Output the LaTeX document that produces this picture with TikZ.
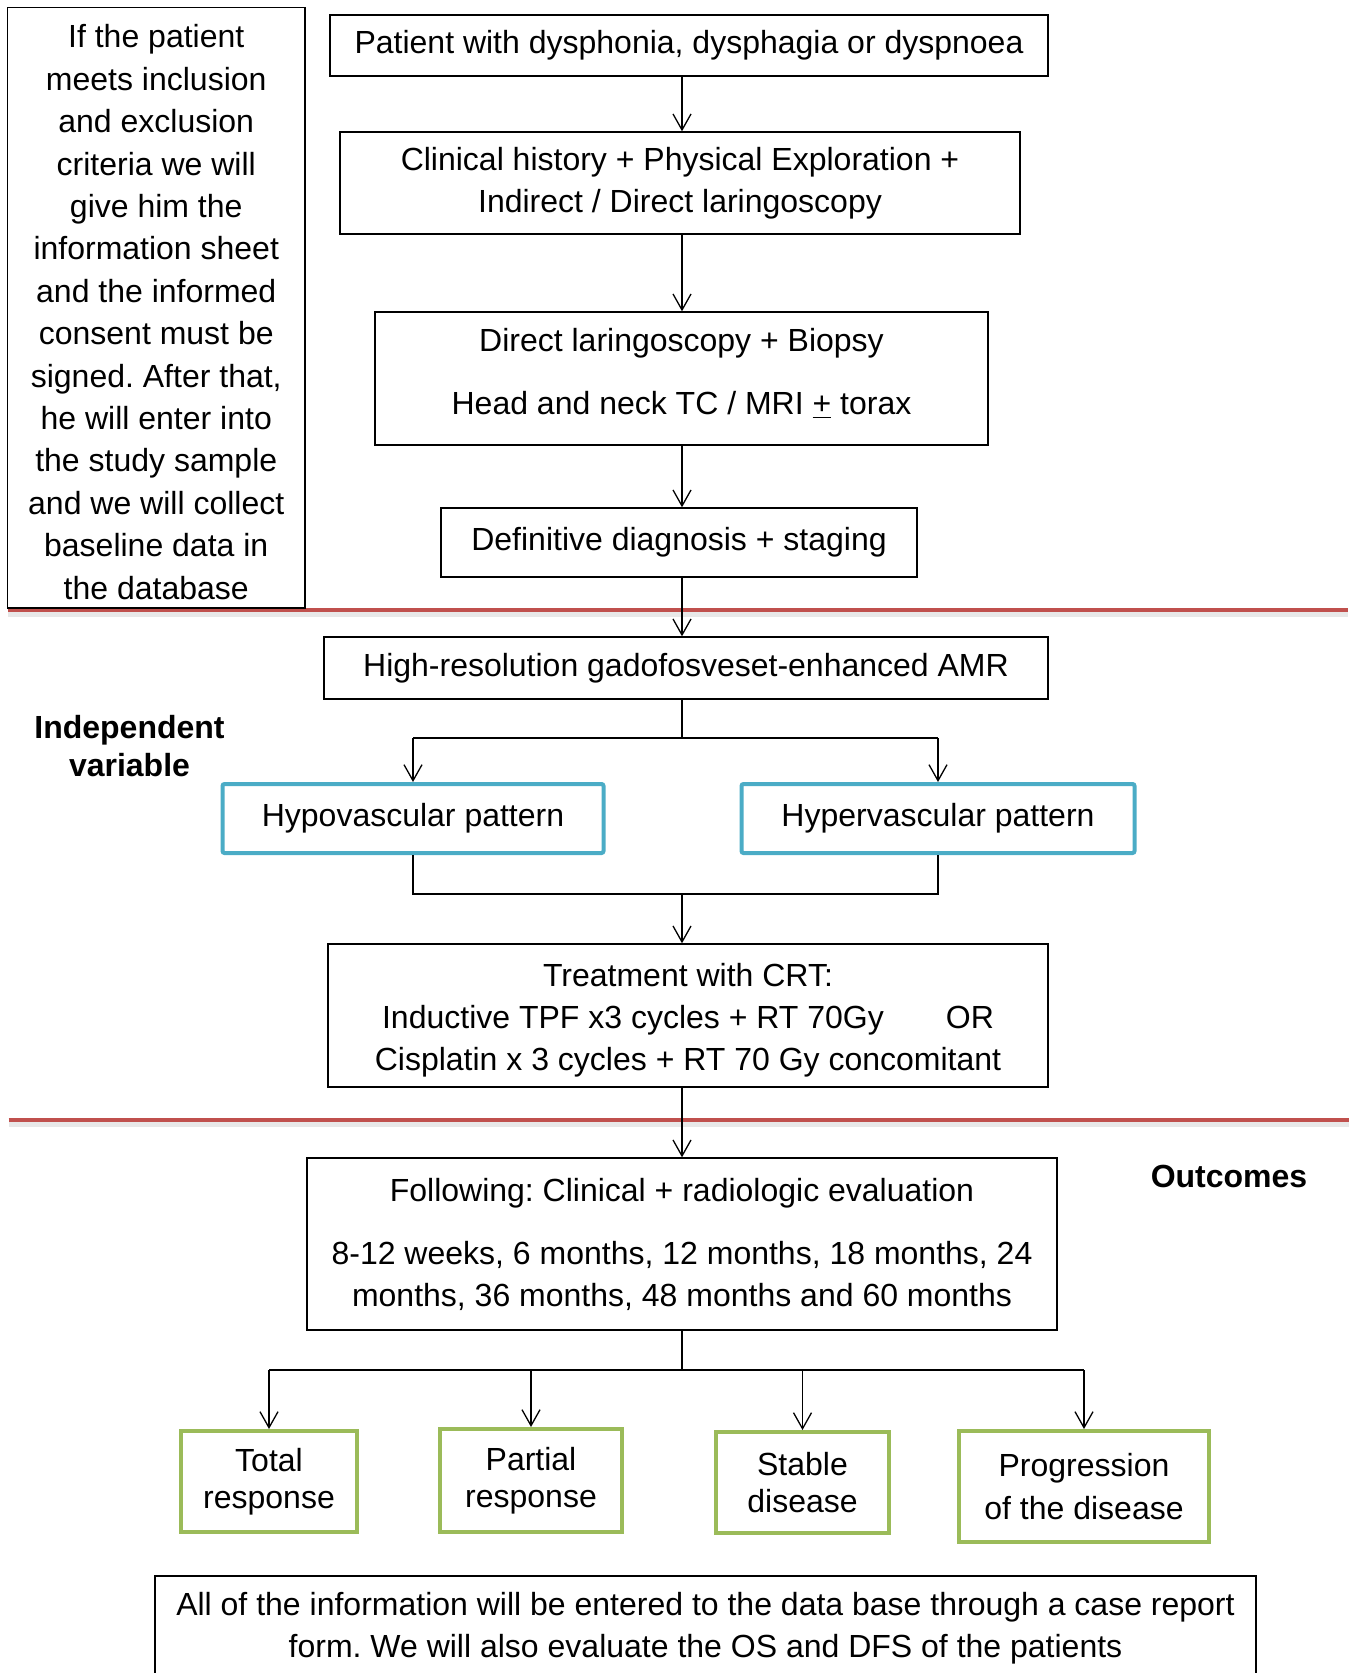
\documentclass[tikz,border=0pt]{standalone}
\usepackage{fontspec}
\setmainfont{Liberation Sans}
\usetikzlibrary{arrows.meta, calc}
\definecolor{redline}{HTML}{C0504D}
\definecolor{bluebox}{HTML}{4BACC6}
\definecolor{greenbox}{HTML}{9BBB59}
\frenchspacing
\tikzset{
  block/.style={
    rectangle, draw, line width=0.7pt,
    align=center, inner sep=0pt,
    font=\fontsize{16}{21}\selectfont
  },
  patternblock/.style={
    block, draw=bluebox, line width=2pt, rounded corners=1pt
  },
  outcomeblock/.style={
    block, draw=greenbox, line width=2pt,
    font=\fontsize{16}{18.6}\selectfont
  },
  sidelabel/.style={
    align=center, inner sep=0pt,
    font=\fontsize{16}{19}\selectfont\bfseries
  },
  arrow/.style={-{Straight Barb[length=8pt,width=9pt]}, line width=0.65pt},
  link/.style={line width=0.65pt},
  divider/.style={draw=redline, line width=2pt},
  dividershade/.style={draw=black!9, line width=3pt}
}

\begin{document}
\begin{tikzpicture}[x=0.5pt, y=-0.5pt]
\useasboundingbox (0,0) rectangle (1352,1673);
\clip (0,0) rectangle (1352,1673);

% Section dividers
\draw[dividershade] (8,614) -- (1348,614);
\draw[divider] (7.5,610) -- (1348,610);
\draw[dividershade] (9,1124) -- (1349,1124);
\draw[divider] (8.5,1120) -- (1349,1120);

% Inclusion note
\node[block, minimum width=148.75pt, minimum height=300.25pt,
  font=\fontsize{16}{21.2}\selectfont] (note) at (156.25,307.75)
  {\rule{0pt}{16pt}If the patient\\meets inclusion\\and exclusion\\criteria we will\\give him the\\information sheet\\and the informed\\consent must be\\signed. After that,\\he will enter into\\the study sample\\and we will collect\\baseline data in\\the database};

% Diagnosis chain
\coordinate (spine) at (682,0);
\node[block, minimum width=359pt, minimum height=30.5pt] (patient) at (689,45.5)
  {Patient with dysphonia, dysphagia or dyspnoea};
\node[block, minimum width=340pt, minimum height=51pt] (history) at (680,183)
  {Clinical history + Physical Exploration +\\Indirect / Direct laringoscopy};
\node[block, minimum width=306.5pt, minimum height=66.5pt] (biopsy) at (681.5,378.5)
  {Direct laringoscopy + Biopsy\\[10.5pt]Head and neck TC / MRI \underline{+} torax\rule[-7pt]{0pt}{1pt}};
\node[block, minimum width=238pt, minimum height=34.5pt] (diagnosis) at (679,542.5)
  {Definitive diagnosis + staging};
\draw[arrow] (patient.south -| spine) -- (history.north -| spine);
\draw[arrow] (history.south -| spine) -- (biopsy.north -| spine);
\draw[arrow] (biopsy.south -| spine) -- (diagnosis.north -| spine);

% Imaging and independent variable
\node[block, minimum width=362pt, minimum height=31pt] (amr) at (686,668)
  {High-resolution gadofosveset-enhanced AMR};
\draw[arrow] (diagnosis.south -| spine) -- (amr.north -| spine);
\node[sidelabel] (indep) at (129.5,746) {Independent\\variable};
\node[patternblock, minimum width=190.5pt, minimum height=34.5pt] (hypo) at (413,818.5)
  {Hypovascular pattern};
\node[patternblock, minimum width=196.5pt, minimum height=34.5pt] (hyper) at (938,818.5)
  {Hypervascular pattern};
\coordinate (fork) at (683,738);
\coordinate (merge) at (683,894);
\draw[link] (amr.south -| spine) -- (fork -| spine);
\draw[link] (fork -| hypo) -- (fork -| hyper);
\draw[arrow] (fork -| hypo) -- (hypo.north);
\draw[arrow] (fork -| hyper) -- (hyper.north);
\draw[link] (hypo.south) -- (merge -| hypo) -- (merge -| hyper) -- (hyper.south);

% Treatment
\node[block, minimum width=360pt, minimum height=71.5pt] (treat) at (688,1015.5)
  {\rule{0pt}{16pt}Treatment with CRT:\\Inductive TPF x3 cycles + RT 70Gy\hspace{31pt}OR\\Cisplatin x 3 cycles + RT 70 Gy concomitant};
\draw[arrow] (merge -| spine) -- (treat.north -| spine);

% Follow-up and outcomes
\node[block, minimum width=375pt, minimum height=86pt] (follow) at (682,1244)
  {Following: Clinical + radiologic evaluation\\[10.5pt]8-12 weeks, 6 months, 12 months, 18 months, 24\\months, 36 months, 48 months and 60 months};
\draw[arrow] (treat.south -| spine) -- (follow.north -| spine);
\node[sidelabel] (outcomes) at (1229,1176) {Outcomes};

\node[outcomeblock, minimum width=88pt, minimum height=50.5pt] (total) at (269,1481.5)
  {Total\\response};
\node[outcomeblock, minimum width=91pt, minimum height=51.5pt] (partial) at (531,1480.5)
  {Partial\\response};
\node[outcomeblock, minimum width=86.5pt, minimum height=50.5pt] (stable) at (802.5,1482.5)
  {Stable\\disease};
\node[outcomeblock, minimum width=125pt, minimum height=55.5pt,
  font=\fontsize{16}{21.5}\selectfont] (progress) at (1084,1486.5)
  {Progression\\of the disease};
\coordinate (fork2) at (683,1370);
\draw[link] (follow.south -| spine) -- (fork2 -| spine);
\draw[link] (fork2 -| total) -- (fork2 -| progress);
\foreach \n in {total, partial, stable, progress}
  \draw[arrow] (fork2 -| \n) -- (\n.north);

% Case report form
\node[block, minimum width=550.5pt, minimum height=52pt] (crf) at (705.5,1628)
  {All of the information will be entered to the data base through a case report\\form. We will also evaluate the OS and DFS of the patients};

\end{tikzpicture}
\end{document}
